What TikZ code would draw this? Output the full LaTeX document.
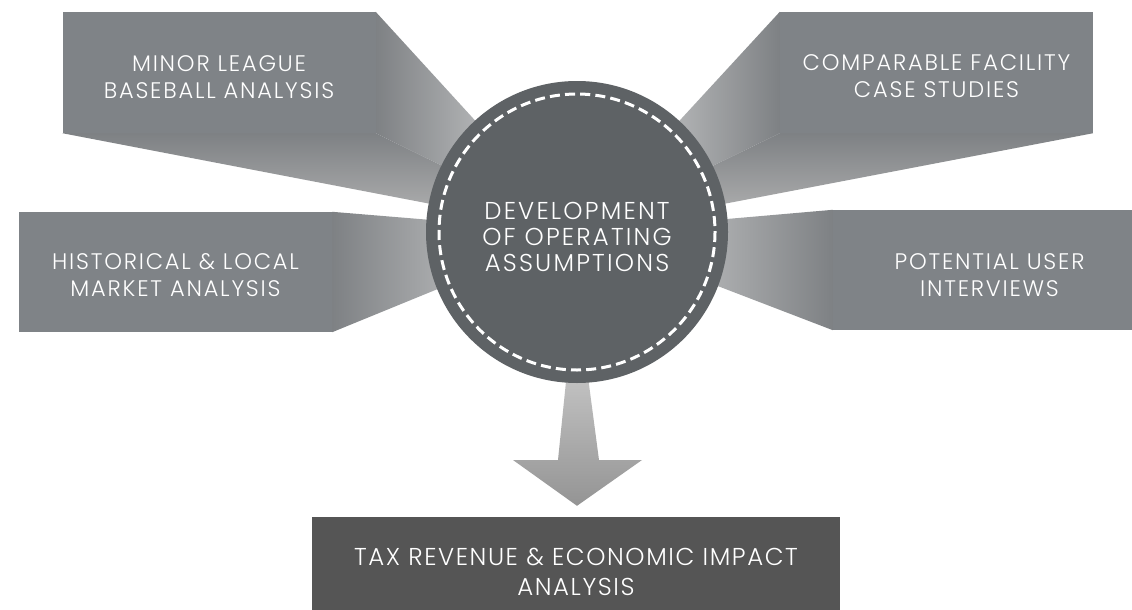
\documentclass[tikz,border=0pt]{standalone}
\usepackage{fontspec}
\setmainfont{Poppins}[UprightFont={* Light}, LetterSpace=8]
\usetikzlibrary{calc}
\definecolor{boxgray}{HTML}{7F8387}
\definecolor{hubgray}{HTML}{5E6265}
\definecolor{resultgray}{HTML}{555555}
\definecolor{facedark}{HTML}{7E8184}
\definecolor{facelight}{HTML}{E2E2E2}
\definecolor{facemid}{HTML}{B8B8B8}
\tikzset{
  srcbox/.style={rectangle, fill=boxgray, minimum width=313pt,
    minimum height=121pt, inner sep=0pt},
  srclabel/.style={text=white, align=center, inner sep=0pt,
    font=\fontsize{22.5}{27}\selectfont},
  hub/.style={circle, fill=hubgray, minimum size=302pt, inner sep=0pt},
  hubtext/.style={text=white, align=center, font=\fontsize{24.4}{26}\selectfont\addfontfeatures{LetterSpace=9}},
  resultbox/.style={rectangle, fill=resultgray, text=white, align=center,
    minimum width=528pt, minimum height=110pt, inner sep=0pt,
    font=\fontsize{24.4}{30}\selectfont\addfontfeatures{LetterSpace=6.5}},
  stitch/.style={draw=white, line width=3pt, dash pattern=on 10pt off 5.2pt},
}
\begin{document}
\begin{tikzpicture}[x=1pt,y=-1pt]
\useasboundingbox (0,0) rectangle (1132,610);
\clip (0,0) rectangle (1132,610);
\fill[white] (0,0) rectangle (1132,610);

% vanishing point of the extrusions = hub centre
\coordinate (c) at (577,232);

% source box outlines (faces are drawn from their anchors)
\path
  (219,72.5)   node[srcbox] (mlb) {}
  (936.5,72.5) node[srcbox] (cfs) {}
  (175.5,272)  node[srcbox, minimum height=120pt] (hlm) {}
  (989.5,270)  node[srcbox, minimum height=120pt] (pui) {};

% extruded faces converging on the hub
\shade[left color=facedark, right color=facelight]
  (mlb.north east) -- (mlb.south east) -- (c) -- cycle;
\shade[top color=facedark, bottom color=facemid]
  (mlb.south west) -- (mlb.south east) -- (c) -- cycle;
\shade[left color=facelight, right color=facedark]
  (cfs.north west) -- (cfs.south west) -- (c) -- cycle;
\shade[top color=facedark, bottom color=facemid]
  (cfs.south east) -- (cfs.south west) -- (c) -- cycle;
\shade[left color=facedark, right color=facelight]
  (hlm.north east) -- (hlm.south east) -- (c) -- cycle;
\shade[left color=facelight, right color=facedark]
  (pui.north west) -- (pui.south west) -- (c) -- cycle;

% front faces of the source boxes
\path
  (mlb) node[srcbox] (mlbf) {}
  (cfs) node[srcbox] (cfsf) {}
  (hlm) node[srcbox, minimum height=120pt] (hlmf) {}
  (pui) node[srcbox, minimum height=120pt] (puif) {};

% labels of the source boxes
\node[srclabel] (mlbt) at ($(mlb)+(0,5)$) {MINOR LEAGUE\\BASEBALL ANALYSIS};
\node[srclabel] (cfst) at ($(cfs)+(0,3.5)$) {COMPARABLE FACILITY\\CASE STUDIES};
\node[srclabel] (hlmt) at ($(hlm)+(0,3)$) {HISTORICAL \& LOCAL\\MARKET ANALYSIS};
\node[srclabel] (puit) at ($(pui)+(0,5)$) {POTENTIAL USER\\INTERVIEWS};

% result box
\node[resultbox] (tax) at (576,572) {TAX REVENUE \& ECONOMIC IMPACT\\ANALYSIS};

% downward arrow from hub to result
\shade[top color=black!22, bottom color=black!42]
  ($(c)+(-9,130)$) -- ($(c)+(-19,228)$) -- ($(c)+(-64,228)$) --
  ($(tax.north)+(1,-11)$) --
  ($(c)+(65,228)$) -- ($(c)+(22,228)$) -- ($(c)+(9,130)$) -- cycle;

% hub with stitched ring
\node[hub] (hubc) at (c) {};
\draw[stitch] (hubc.center) circle[radius=138];
\node[hubtext] (hubt) at ($(hubc.center)+(0,5)$) {DEVELOPMENT\\OF OPERATING\\ASSUMPTIONS};
\end{tikzpicture}
\end{document}
